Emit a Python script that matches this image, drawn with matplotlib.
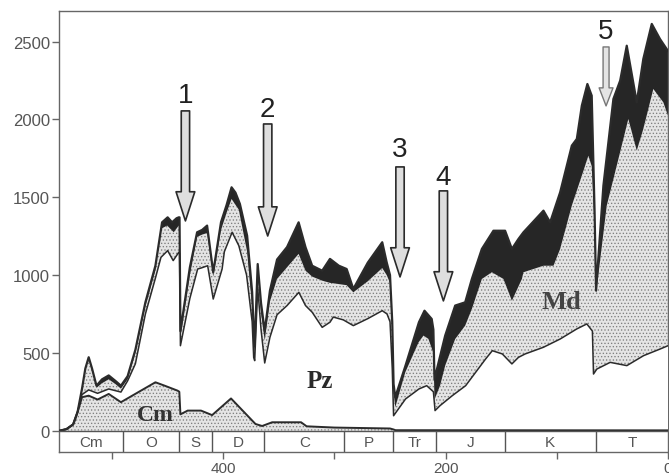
import matplotlib
matplotlib.use("Agg")
import matplotlib.pyplot as plt

# ---------------- data (ages in Ma, values = number of families) ----------------
cm_age = [547, 541, 535, 531, 527, 521, 513, 503, 492, 461, 453, 441, 439.5, 438.5,
          432, 420, 410, 393, 371, 365, 356, 330, 325, 300, 250, 247, 245, 0]
cm_val = [0, 10, 40, 120, 215, 225, 200, 236, 183, 311, 290, 257, 250, 105,
          129, 129, 100, 207, 43, 30, 54, 54, 28, 20, 14, 8, 3, 2]

pz_age = [547, 541, 535, 531, 527, 521, 513, 503, 492, 486, 479, 470, 461, 456, 450, 445,
          440, 439.3, 438.5, 430, 423, 420, 414, 409, 401, 399, 392, 386, 379, 374,
          372.6, 371.7, 369, 366, 362.7, 358, 351.6, 342.6, 332, 326, 320, 311, 304,
          301, 292, 283, 270, 257, 252.7, 250, 248, 246.8, 236, 224, 217, 211, 209.5,
          205, 194, 182, 173, 164, 158, 149, 140.4, 134.5, 128.5, 112, 97, 82, 73, 68,
          67, 64, 52, 37, 22, 7, 0]
pz_val = [0, 10, 40, 120, 232, 262, 240, 268, 248, 320, 430, 750, 980, 1114, 1157, 1093,
          1146, 1140, 546, 850, 1039, 1045, 1060, 846, 1039, 1150, 1275, 1189, 1000, 700,
          470, 450, 920, 650, 435, 600, 745, 804, 889, 804, 761, 664, 697,
          730, 712, 675, 720, 771, 750, 700, 400, 96, 204, 268, 289, 250, 129,
          161, 225, 289, 375, 461, 514, 493, 429, 471, 493, 536, 589, 654, 686, 640,
          364, 396, 439, 418, 482, 525, 546]

md_age = [547, 541, 535, 531, 527, 524, 521, 518, 514, 509, 503, 497, 492, 486, 479, 470,
          461, 456.4, 450.4, 444.5, 440, 439.3, 438.5, 430, 423.5, 419, 414.5, 409, 402,
          397, 392.5, 386, 378.5, 374, 372.6, 371.7, 369, 366, 362.7, 358, 351.6, 342.6,
          332.2, 326, 320, 311, 304, 289, 283, 270, 257, 253, 250, 248, 246.8, 245.3,
          236.3, 224.3, 219.9, 215.5, 211, 210, 205, 200.4, 191.4, 182.4, 176.4, 167.4,
          158.4, 148, 140.4, 131.4, 130, 112, 103, 97, 86.5, 77.5, 71.6, 68.6, 66.5, 64.7,
          55.1, 43.1, 35.7, 28.1, 22.2, 13.2, 4.2, 0]
md_val = [0, 10, 40, 120, 255, 390, 462, 390, 275, 305, 330, 300, 270, 330, 500, 800,
          1030, 1296, 1318, 1275, 1318, 1310, 600, 1000, 1245, 1260, 1270, 990, 1290,
          1400, 1489, 1420, 1150, 800, 560, 500, 1000, 760, 580, 830, 975, 1050,
          1136, 1028, 990, 964, 950, 935, 889, 960, 1045, 1000, 950, 650, 250, 150,
          375, 568, 611, 590, 500, 200, 289, 418, 589, 675, 782, 975,
          1018, 975, 835, 975, 1018, 1060, 1060, 1168, 1446, 1639, 1767, 1700, 1380, 880,
          1446, 1789, 2003, 1800, 1939, 2196, 2110, 2024]

tot_age = [547, 541, 535, 531, 527, 524, 521, 518, 514, 509, 503, 497, 492, 486, 479, 470,
           461, 455, 450, 446, 442, 440, 439.3, 438.5, 430, 423.5, 419, 414.5, 409, 402,
           397, 392.5, 389, 385, 378.5, 374, 372.6, 371.7, 369, 366, 362.7, 358, 351.6,
           342.6, 332.2, 326, 320, 311, 304, 296, 289, 283, 270, 257, 253, 250, 248,
           246.8, 245.3, 236, 224, 219, 212.5, 211, 210, 200.4, 191.4, 182.4, 176.4,
           167.4, 157, 146.5, 140.4, 134.5, 130, 112, 106, 97, 86.5, 82, 77.5, 72.5,
           68.6, 66.0, 64.7, 58.1, 49.1, 43, 37.1, 28.1, 22.2, 14.6, 7.2, 0]
tot_val = [0, 10, 40, 120, 270, 400, 472, 400, 289, 330, 355, 320, 289, 350, 520, 825,
           1060, 1339, 1371, 1339, 1365, 1371, 1371, 640, 1050, 1275, 1290, 1318, 1018, 1340,
           1450, 1564, 1530, 1457, 1253, 891, 650, 546, 1071, 820, 640, 900, 1100,
           1180, 1339, 1179, 1060, 1028, 1104, 1060, 1039, 911, 1080, 1211, 1082, 1000, 700,
           300, 215, 420, 697, 771, 718, 650, 332, 611, 804, 825, 975,
           1168, 1285, 1285, 1168, 1232, 1275, 1414, 1339, 1532, 1832, 1875, 2089, 2228,
           2153, 1400, 900, 1575, 2132, 2250, 2474, 2110, 2389, 2614, 2517, 2440]

period_bounds = [547.7, 490, 440, 410, 363, 291, 247, 209, 147, 65, 0]
period_labels = ["Cm", "O", "S", "D", "C", "P", "Tr", "J", "K", "T"]

arrow_ages = [434, 360, 241, 202, 55.7]
arrow_tops = [2055, 1971, 1695, 1541, 2466]
arrow_tips = [1348, 1251, 988, 834, 2087]
arrow_labels = ["1", "2", "3", "4", "5"]
arrow_label_y = [2160, 2070, 1810, 1630, 2570]

fauna_labels = ["Cm", "Pz", "Md"]
fauna_age = [461, 313.6, 96]
fauna_y = [107, 321, 827]

# ---------------- drawing ----------------
plt.rcParams['hatch.linewidth'] = 0.55
fig = plt.figure(figsize=(6.69, 4.77), dpi=100)
ax = fig.add_axes([59 / 669, 1 - 453.3 / 477, (668 - 59) / 669, (453.3 - 12) / 477])
ax.set_xlim(547.7, 0)
ax.set_ylim(-139, 2697)

edge = '#2b2b2b'
stip_face = '#e4e4e4'
stip_hatch = '#7e7e7e'

# black band: everything under the total
ax.fill_between(tot_age, 0, tot_val, facecolor='#262626', edgecolor='none', zorder=1)
# modern fauna stipple
ax.fill_between(md_age, 0, md_val, facecolor=stip_face, edgecolor=stip_hatch,
                hatch='.....', linewidth=0, zorder=2)
# Paleozoic fauna (white)
ax.fill_between(pz_age, 0, pz_val, facecolor='white', edgecolor='none', zorder=3)
# Cambrian fauna stipple
ax.fill_between(cm_age, 0, cm_val, facecolor=stip_face, edgecolor=stip_hatch,
                hatch='.....', linewidth=0, zorder=4)

ax.plot(tot_age, tot_val, color=edge, lw=1.6, zorder=5)
ax.plot(pz_age, pz_val, color=edge, lw=1.1, zorder=5)
ax.plot(cm_age, cm_val, color=edge, lw=1.4, zorder=5)

# time scale strip
ax.axhline(0, color='#555555', lw=1.0, zorder=6)
ax.vlines(period_bounds[1:-1], -139, 0, color='#555555', lw=1.0, zorder=6)
for i, lab in enumerate(period_labels):
    mid = 0.5 * (period_bounds[i] + period_bounds[i + 1])
    ax.text(mid, -72, lab, ha='center', va='center', fontsize=11,
            family='Liberation Sans', color='#555555', zorder=6)

# fauna labels
ax.text(fauna_age[0], fauna_y[0], fauna_labels[0], ha='center', va='center', fontsize=17,
        family='Liberation Serif', weight='bold', color='#333333', zorder=7)
ax.text(fauna_age[1], fauna_y[1], fauna_labels[1], ha='center', va='center', fontsize=18,
        family='Liberation Serif', weight='bold', color='#2a2a2a', zorder=7)
ax.text(fauna_age[2], fauna_y[2], fauna_labels[2], ha='center', va='center', fontsize=19,
        family='Liberation Serif', weight='bold', color='#444444', zorder=7)

# extinction arrows
for i in range(5):
    if i < 4:
        style = 'simple,head_length=21,head_width=13.5,tail_width=6'
        fc, ec, lw = '#dedede', '#2a2a2a', 1.2
    else:
        style = 'simple,head_length=13,head_width=10,tail_width=4.3'
        fc, ec, lw = '#e4e4e4', '#777777', 1.0
    ax.annotate('', xy=(arrow_ages[i], arrow_tips[i]), xytext=(arrow_ages[i], arrow_tops[i]),
                arrowprops=dict(arrowstyle=style, mutation_scale=1, fc=fc, ec=ec, lw=lw,
                                shrinkA=0, shrinkB=0), zorder=8)
    ax.text(arrow_ages[i], arrow_label_y[i], arrow_labels[i], ha='center', va='center',
            fontsize=20, family='Liberation Sans', color='#222222', zorder=8)

# axes styling
ax.set_xticks([500, 400, 300, 200, 100, 0])
ax.set_xticklabels(['', '400', '', '200', '', '0'])
ax.set_yticks([0, 500, 1000, 1500, 2000, 2500])
ax.tick_params(axis='both', direction='out', length=5, width=1, color='#666666',
               labelcolor='#555555', labelsize=12)
ax.tick_params(axis='y', pad=1.5)
ax.tick_params(axis='x', pad=1.5, labelsize=11)
for lab in ax.get_xticklabels() + ax.get_yticklabels():
    lab.set_family('Liberation Sans')
for s in ax.spines.values():
    s.set_color('#666666')
    s.set_linewidth(1.0)

fig.savefig('out.png', dpi=100)
